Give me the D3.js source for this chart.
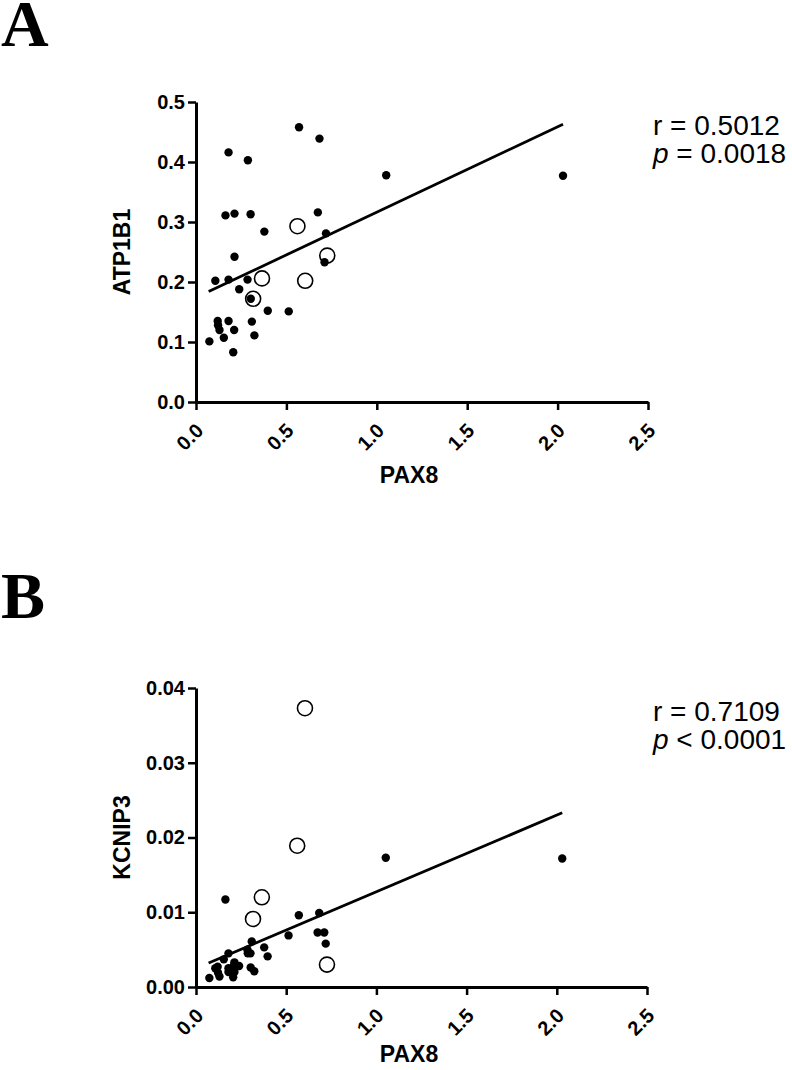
<!DOCTYPE html>
<html>
<head>
<meta charset="utf-8">
<script src="https://cdn.jsdelivr.net/npm/d3@7"></script>
<style>
  body { margin: 0; background: #fff; }
  svg { display: block; font-family: "Liberation Sans", Arial, sans-serif; }
</style>
</head>
<body>
<svg width="792" height="1070"></svg>
<script>

// PAX8 values of the samples (shared x of both panels)
var pax8 = [0.074, 0.107, 0.120, 0.122, 0.130, 0.154, 0.163, 0.180, 0.180, 0.180,
            0.206, 0.211, 0.213, 0.213, 0.239, 0.285, 0.287, 0.302, 0.303, 0.309,
            0.323, 0.378, 0.397, 0.513, 0.570, 0.674, 0.683, 0.711, 0.719, 1.052, 2.030];
var atp1b1 = [0.101, 0.202, 0.135, 0.128, 0.120, 0.107, 0.311, 0.416, 0.204, 0.135,
              0.083, 0.120, 0.314, 0.242, 0.188, 0.204, 0.403, 0.313, 0.172, 0.134,
              0.111, 0.284, 0.152, 0.151, 0.458, 0.316, 0.439, 0.233, 0.281, 0.378, 0.377];
var kcnip3 = [0.0012, 0.0025, 0.0027, 0.0019, 0.0014, 0.0037, 0.0117, 0.0045, 0.0020, 0.0025,
              0.0013, 0.0029, 0.0020, 0.0033, 0.0028, 0.0050, 0.0045, 0.0045, 0.0026, 0.0061,
              0.0021, 0.0053, 0.0041, 0.0069, 0.0096, 0.0073, 0.0099, 0.0073, 0.0058, 0.0173, 0.0172];

// open circle samples
var openPax8 = [0.316, 0.365, 0.561, 0.604, 0.726];
var openAtp1b1 = [0.172, 0.206, 0.293, 0.202, 0.244];
var openKcnip3 = [0.0091, 0.0120, 0.0189, 0.0373, 0.0030];

// regression line end points [x, y]
var fitA = [[0.07, 0.184], [2.03, 0.463]];
var fitB = [[0.07, 0.0032], [2.03, 0.0233]];

var xTicks = [0, 0.5, 1.0, 1.5, 2.0, 2.5];
var yTicksA = [0, 0.1, 0.2, 0.3, 0.4, 0.5];
var yTicksB = [0, 0.01, 0.02, 0.03, 0.04];

var svg = d3.select("svg");

function drawPanel(p) {
  var g = svg.append("g");

  var x = d3.scaleLinear().domain([0, 2.5]).range([p.left, p.right]);
  var y = d3.scaleLinear().domain([0, p.yMax]).range([p.bottom, p.top]);

  // panel letter
  svg.append("text")
    .attr("x", 1).attr("y", p.letterY)
    .style("font-family", "'Liberation Serif', 'Times New Roman', serif")
    .style("font-weight", "bold")
    .style("font-size", "66px")
    .text(p.letter);

  // y axis
  var yAxis = g.append("g")
    .attr("transform", "translate(" + p.left + ",0)")
    .call(d3.axisLeft(y).tickValues(p.yTicks).tickFormat(d3.format(p.yFmt))
      .tickSize(8).tickSizeOuter(0).tickPadding(3));

  // x axis
  var xAxis = g.append("g")
    .attr("transform", "translate(0," + p.bottom + ")")
    .call(d3.axisBottom(x).tickValues(xTicks).tickFormat(d3.format(".1f"))
      .tickSize(8).tickSizeOuter(0));

  [yAxis, xAxis].forEach(function (a) {
    a.select(".domain").attr("stroke", "#000").attr("stroke-width", 3);
    a.selectAll(".tick line").attr("stroke", "#000").attr("stroke-width", 2.5);
    a.selectAll("text")
      .attr("fill", "#000")
      .style("font-family", "'Liberation Sans', Arial, sans-serif")
      .style("font-weight", "bold")
      .style("font-size", "20px");
  });

  // rotated x tick labels
  xAxis.selectAll(".tick text")
    .attr("y", 0).attr("dy", 0)
    .attr("text-anchor", "end")
    .attr("transform", "translate(8,30) rotate(-45)");

  // axis titles
  g.append("text")
    .attr("transform", "translate(" + p.yTitleX + "," + ((p.top + p.bottom) / 2) + ") rotate(-90)")
    .attr("text-anchor", "middle")
    .style("font-weight", "bold")
    .style("font-size", "23px")
    .text(p.yTitle);

  g.append("text")
    .attr("x", 409).attr("y", p.xTitleY)
    .attr("text-anchor", "middle")
    .style("font-weight", "bold")
    .style("font-size", "23px")
    .text("PAX8");

  // regression line
  g.append("path")
    .datum(p.fit)
    .attr("fill", "none")
    .attr("stroke", "#000")
    .attr("stroke-width", 2.8)
    .attr("d", d3.line().x(function (d) { return x(d[0]); }).y(function (d) { return y(d[1]); }));

  // open circles
  g.selectAll(".open")
    .data(p.openY)
    .enter().append("circle")
    .attr("cx", function (d, i) { return x(openPax8[i]); })
    .attr("cy", function (d) { return y(d); })
    .attr("r", 7.5)
    .attr("fill", "#fff")
    .attr("stroke", "#000")
    .attr("stroke-width", 1.6);

  // filled dots
  g.selectAll(".dot")
    .data(p.values)
    .enter().append("circle")
    .attr("cx", function (d, i) { return x(pax8[i]); })
    .attr("cy", function (d) { return y(d); })
    .attr("r", 4.2)
    .attr("fill", "#000");

  // stats text
  var st = g.append("text")
    .attr("x", 653).attr("y", p.top + 33)
    .style("font-size", "28px");
  st.append("tspan").text("r = " + p.r);
  var l2 = g.append("text")
    .attr("x", 653).attr("y", p.top + 61)
    .style("font-size", "28px");
  l2.append("tspan").style("font-style", "italic").text("p");
  l2.append("tspan").text(" " + p.p);
}

drawPanel({
  letter: "A", letterY: 46,
  left: 196, right: 648, top: 102, bottom: 402,
  yMax: 0.5, yTicks: yTicksA, yFmt: ".1f",
  yTitle: "ATP1B1", yTitleX: 130, xTitleY: 483,
  values: atp1b1, openY: openAtp1b1, fit: fitA,
  r: "0.5012", p: "= 0.0018"
});

drawPanel({
  letter: "B", letterY: 618,
  left: 196, right: 647, top: 688, bottom: 987,
  yMax: 0.04, yTicks: yTicksB, yFmt: ".2f",
  yTitle: "KCNIP3", yTitleX: 130, xTitleY: 1062,
  values: kcnip3, openY: openKcnip3, fit: fitB,
  r: "0.7109", p: "< 0.0001"
});

</script>
</body>
</html>
